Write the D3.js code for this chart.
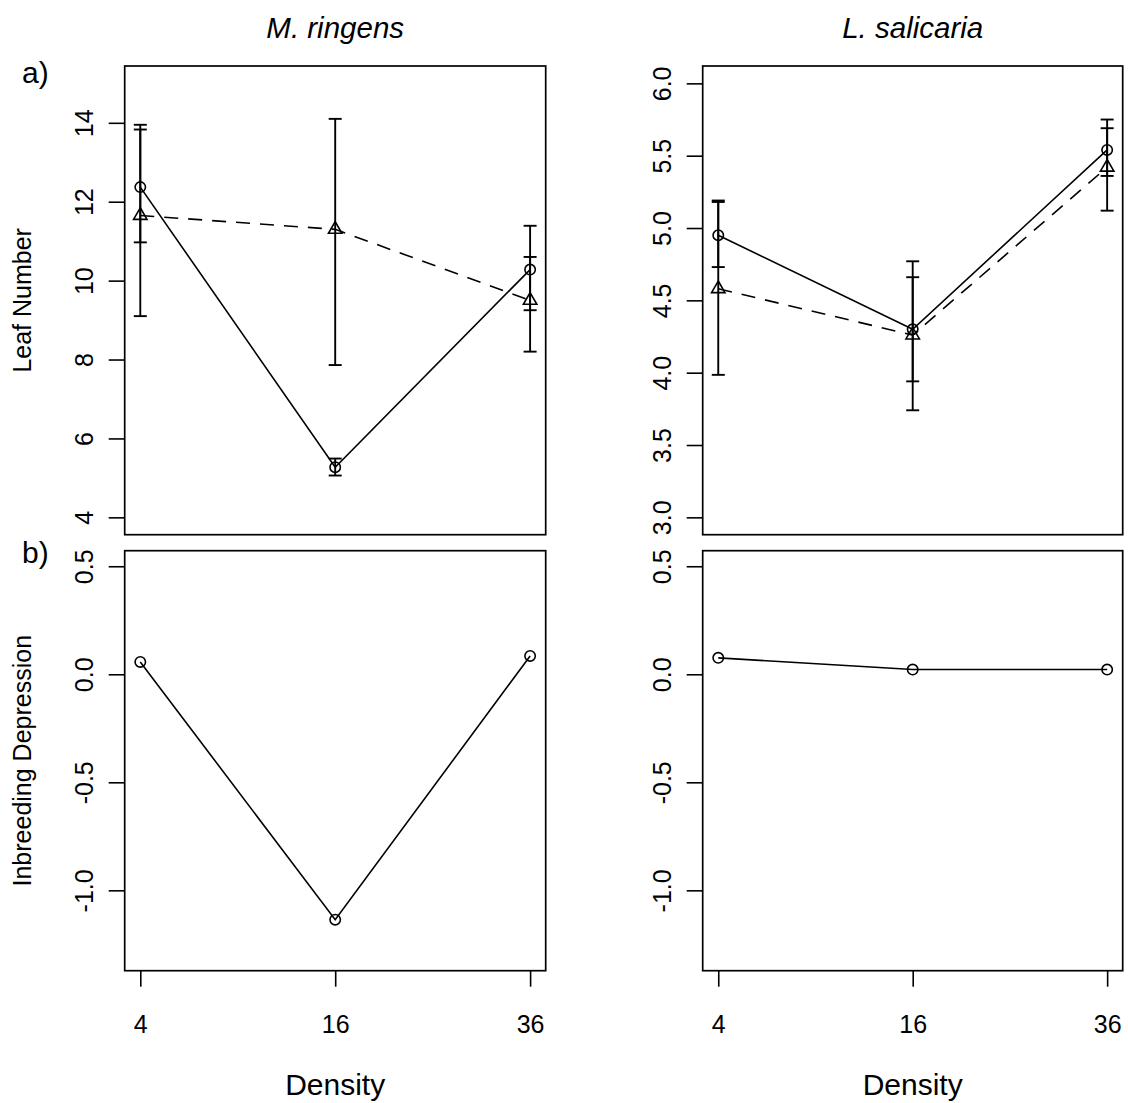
<!DOCTYPE html>
<html>
<head>
<meta charset="utf-8">
<script src="https://cdn.jsdelivr.net/npm/d3@7"></script>
<style>
  body { margin: 0; background: #fff; }
  text { font-family: "Liberation Sans", Arial, Helvetica, sans-serif; fill: #000; }
</style>
</head>
<body>
<div id="chart"></div>
<script>
// densidades (eixo x) e valores
var densities = ["4", "16", "36"];

// M. ringens - circulos (linha cheia) e triangulos (tracejada)
var mrCircle   = [12.37, 5.27, 10.28];
var mrCircleLo = [10.97, 5.06, 9.25];
var mrCircleHi = [13.83, 5.49, 11.39];
var mrTri      = [11.65, 11.30, 9.50];
var mrTriLo    = [9.10, 7.86, 8.20];
var mrTriHi    = [13.95, 14.10, 10.60];

// L. salicaria
var lsCircle   = [4.95, 4.30, 5.54];
var lsCircleLo = [4.73, 3.94, 5.36];
var lsCircleHi = [5.19, 4.66, 5.75];
var lsTri      = [4.58, 4.26, 5.42];
var lsTriLo    = [3.985, 3.74, 5.12];
var lsTriHi    = [5.18, 4.77, 5.69];

// inbreeding depression
var mrID = [0.057, -1.136, 0.085];
var lsID = [0.076, 0.022, 0.022];

var mrLeafTicks = [4, 6, 8, 10, 12, 14];
var lsLeafTicks = [3.0, 3.5, 4.0, 4.5, 5.0, 5.5, 6.0];
var idTicks = [-1.0, -0.5, 0.0, 0.5];

var titles = ["M. ringens", "L. salicaria"];

var W = 1128, H = 1103;
var svg = d3.select("#chart").append("svg")
    .attr("width", W)
    .attr("height", H);

var cols = [[124.7, 545.7], [702.7, 1122.7]];
var rows = [[66, 534.7], [550.7, 970.7]];
var tick = 16;

function pad(a, b) { var e = (b - a) * 0.04; return [a - e, b + e]; }

function panel(col, row, ylim, yticks, fmt, series, showX) {
    var c = cols[col], r = rows[row];
    var x = d3.scaleLinear().domain(pad(1, 3)).range(c);
    var y = d3.scaleLinear().domain(pad(ylim[0], ylim[1])).range([r[1], r[0]]);
    var g = svg.append("g");

    var ax = g.append("g")
        .attr("transform", "translate(" + c[0] + ",0)")
        .call(d3.axisLeft(y).tickValues(yticks).tickFormat(fmt).tickSize(tick).tickSizeOuter(0));
    ax.select(".domain").remove();
    ax.selectAll("line").attr("stroke", "#000").attr("stroke-width", 1.6);
    ax.selectAll("text")
        .attr("x", null).attr("dy", null)
        .attr("text-anchor", "middle")
        .attr("transform", "translate(-31.5,0) rotate(-90)")
        .style("font-size", "25px");

    if (showX) {
        var bx = g.append("g")
            .attr("transform", "translate(0," + r[1] + ")")
            .call(d3.axisBottom(x).tickValues([1, 2, 3]).tickFormat(function (d) { return densities[d - 1]; })
                .tickSize(tick).tickSizeOuter(0));
        bx.select(".domain").remove();
        bx.selectAll("line").attr("stroke", "#000").attr("stroke-width", 1.6);
        bx.selectAll("text")
            .attr("y", 62).attr("dy", null)
            .style("font-size", "25px");
    }

    series.forEach(function (s) {
        var pts = s.v.map(function (v, i) { return [x(i + 1), y(v)]; });
        if (s.lo) {
            s.v.forEach(function (v, i) {
                var px = x(i + 1);
                g.append("line").attr("x1", px).attr("x2", px)
                    .attr("y1", y(s.lo[i])).attr("y2", y(s.hi[i]))
                    .attr("stroke", "#000").attr("stroke-width", 1.9);
                [s.lo[i], s.hi[i]].forEach(function (e) {
                    g.append("line").attr("x1", px - 6.5).attr("x2", px + 6.5)
                        .attr("y1", y(e)).attr("y2", y(e))
                        .attr("stroke", "#000").attr("stroke-width", 1.9);
                });
            });
        }
        g.append("path")
            .attr("d", d3.line()(pts))
            .attr("fill", "none")
            .attr("stroke", "#000")
            .attr("stroke-width", 1.6)
            .attr("stroke-dasharray", s.dash ? "14,10" : null);
        pts.forEach(function (p) {
            if (s.sym === "circle") {
                g.append("circle").attr("cx", p[0]).attr("cy", p[1]).attr("r", 5.2)
                    .attr("fill", "none").attr("stroke", "#000").attr("stroke-width", 1.6);
            } else {
                var rr = 7.78, hw = 6.74, b = 3.89;
                g.append("path")
                    .attr("d", d3.line()([[p[0], p[1] - rr], [p[0] + hw, p[1] + b], [p[0] - hw, p[1] + b]]) + "Z")
                    .attr("fill", "none").attr("stroke", "#000").attr("stroke-width", 1.6);
            }
        });
    });

    g.append("rect")
        .attr("x", c[0]).attr("y", r[0])
        .attr("width", c[1] - c[0]).attr("height", r[1] - r[0])
        .attr("fill", "none").attr("stroke", "#000").attr("stroke-width", 1.7);
}

var fInt = d3.format("d");
var f1 = function (d) { return d3.format(".1f")(d).replace("\u2212", "-"); };

panel(0, 0, [4, 15], mrLeafTicks, fInt, [
    { v: mrTri, lo: mrTriLo, hi: mrTriHi, sym: "tri", dash: true },
    { v: mrCircle, lo: mrCircleLo, hi: mrCircleHi, sym: "circle", dash: false }
], false);
panel(1, 0, [3, 6], lsLeafTicks, f1, [
    { v: lsTri, lo: lsTriLo, hi: lsTriHi, sym: "tri", dash: true },
    { v: lsCircle, lo: lsCircleLo, hi: lsCircleHi, sym: "circle", dash: false }
], false);
panel(0, 1, [-1.3, 0.5], idTicks, f1, [{ v: mrID, sym: "circle" }], true);
panel(1, 1, [-1.3, 0.5], idTicks, f1, [{ v: lsID, sym: "circle" }], true);

// titulos e rotulos
cols.forEach(function (c, i) {
    var cx = (c[0] + c[1]) / 2;
    svg.append("text").attr("x", cx).attr("y", 38)
        .attr("text-anchor", "middle")
        .style("font-size", "29.5px").style("font-style", "italic")
        .text(titles[i]);
    svg.append("text").attr("x", cx).attr("y", 1095)
        .attr("text-anchor", "middle")
        .style("font-size", "30px")
        .text("Density");
});

svg.append("text").attr("x", 22).attr("y", 83).style("font-size", "30px").text("a)");
svg.append("text").attr("x", 22).attr("y", 563).style("font-size", "30px").text("b)");

var ylabs = [["Leaf Number", rows[0]], ["Inbreeding Depression", rows[1]]];
ylabs.forEach(function (l) {
    var cy = (l[1][0] + l[1][1]) / 2;
    svg.append("text")
        .attr("transform", "translate(31," + cy + ") rotate(-90)")
        .attr("text-anchor", "middle")
        .style("font-size", "25px")
        .text(l[0]);
});
</script>
</body>
</html>
